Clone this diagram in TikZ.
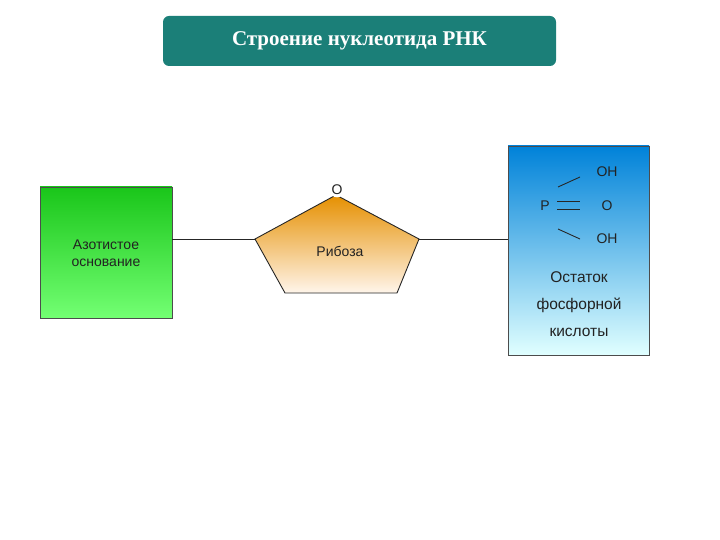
\documentclass[tikz,border=0pt]{standalone}
\usepackage{fontspec}
\setmainfont{Liberation Sans}
\newfontfamily\titlefont{Liberation Serif}
\usetikzlibrary{shapes.geometric}
\definecolor{teal1}{HTML}{1B7F78}
\definecolor{txt}{HTML}{222222}
\tikzset{lbl/.style={text=txt,font=\fontsize{14}{17}\selectfont,align=center,inner sep=0pt},
conn/.style={draw=black!85,line width=0.9pt}}
\begin{document}
\begin{tikzpicture}[x=1pt,y=-1pt]
\useasboundingbox (0,0) rectangle (720,540);
\node[fill=teal1,rounded corners=6pt,minimum width=393pt,minimum height=50pt,text=white,font=\titlefont\bfseries\fontsize{21}{24}\selectfont] (title) at (359.5,41) {Строение нуклеотида РНК};
% left box
\shade[top color=green!75!black!90,bottom color=green!55!white] (40,187) rectangle (172,318);
\draw[black!70,line width=0.8pt] (40,187) rectangle (172,318);
\node[minimum width=132pt,minimum height=131pt] (base) at (106,252.5) {};
\node[lbl] (basetxt) at (106,253) {Азотистое\\основание};
% pentagon
\coordinate (pl) at (255,239);
\coordinate (pt) at (336,195);
\coordinate (pr) at (419,239);
\coordinate (pbr) at (397,293);
\coordinate (pbl) at (285,293);
\shade[top color=orange!75!yellow!90!black,bottom color=orange!8!white] (pl)--(pt)--(pr)--(pbr)--(pbl)--cycle;
\draw[black!85,line width=0.9pt] (pl)--(pt)--(pr)--(pbr)--(pbl)--cycle;
\node[fill=white,circle,inner sep=1.5pt,lbl] (o) at (337,190) {O};
\node[lbl] (rib) at (340,251) {Рибоза};
% right box
\shade[top color=cyan!60!blue!85!black,bottom color=cyan!12!white] (508,146) rectangle (649,355);
\draw[black!70,line width=0.8pt] (508,146) rectangle (649,355);
\node[minimum width=141pt,minimum height=209pt] (phos) at (578.5,250.5) {};
\node[lbl] (P) at (545,206) {P};
\node[lbl] (O2) at (607,206) {O};
\node[lbl] (OH1) at (607,172) {OH};
\node[lbl] (OH2) at (607,239) {OH};
\coordinate (s1a) at (558,187); \coordinate (s1b) at (580,177);
\coordinate (s2a) at (558,229); \coordinate (s2b) at (580,239);
\draw[conn] (s1a)--(s1b);
\draw[conn] (s2a)--(s2b);
\coordinate (d1a) at (557,201); \coordinate (d1b) at (580,201);
\coordinate (d2a) at (557,209); \coordinate (d2b) at (580,209);
\draw[conn] (d1a)--(d1b);
\draw[conn] (d2a)--(d2b);
\node[lbl,font=\fontsize{15.5}{27}\selectfont] (phtxt) at (579,304) {Остаток\\фосфорной\\кислоты};
% connectors
\draw[conn] (base.east |- pl) -- (pl);
\draw[conn] (pr) -- (phos.west |- pr);
\end{tikzpicture}
\end{document}
